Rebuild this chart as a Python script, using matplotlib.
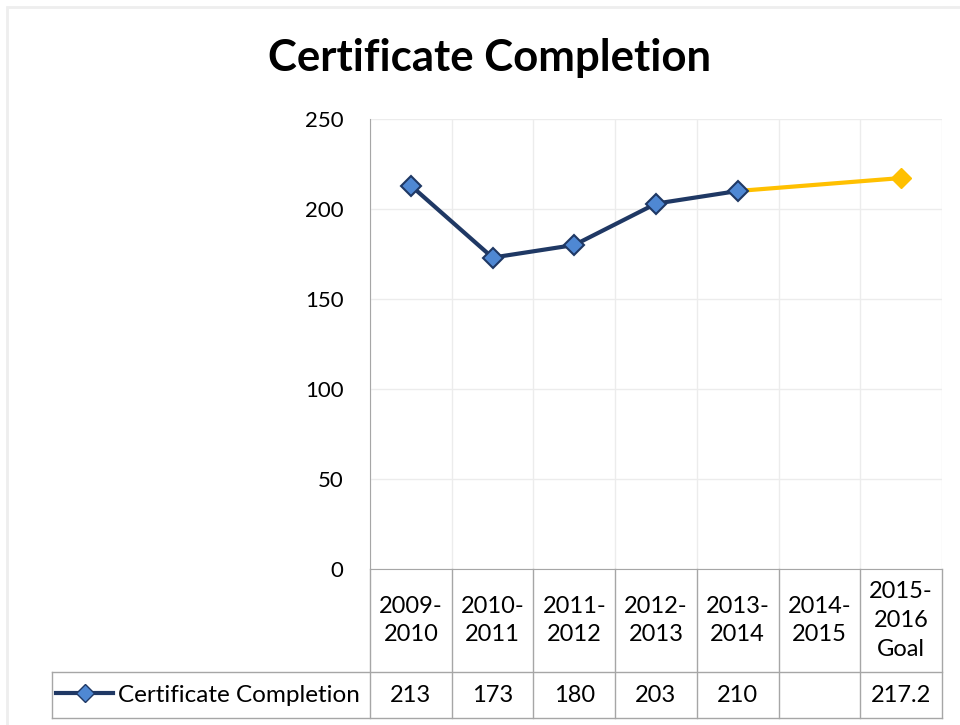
import matplotlib.pyplot as plt
from matplotlib.patches import Rectangle
from matplotlib.lines import Line2D

plt.rcParams['font.family'] = ['Lato', 'DejaVu Sans']

years = ["2009-\n2010", "2010-\n2011", "2011-\n2012", "2012-\n2013",
         "2013-\n2014", "2014-\n2015", "2015-\n2016\nGoal"]
completion = [213, 173, 180, 203, 210, None, 217.2]
cell_text = ["213", "173", "180", "203", "210", "", "217.2"]
actual_idx = [0, 1, 2, 3, 4]
goal_idx = [4, 6]

navy = "#1F3864"
blue = "#4F88D3"
gold = "#FFC000"
grid_c = "#ECECEC"
table_c = "#A6A6A6"

fig = plt.figure(figsize=(9.6, 7.25), dpi=100)
fig.patches.append(Rectangle((7 / 960, -0.1), 1.2, 1 - 7 / 725 + 0.1,
                             transform=fig.transFigure, fill=False,
                             edgecolor="#EEEEEE", linewidth=2))

ax = fig.add_axes([370 / 960, 1 - 569 / 725, 572 / 960, 450 / 725])
ax.set_xlim(-0.5, 6.5)
ax.set_ylim(0, 250)
ax.set_yticks(range(0, 251, 50))
ax.set_xticks([])
ax.set_xticks([i - 0.5 for i in range(8)], minor=True)
ax.tick_params(axis="x", which="both", length=0, labelbottom=False)
ax.tick_params(axis="y", length=0, labelsize=16, pad=19)
ax.grid(axis="y", color=grid_c, linewidth=1)
ax.grid(axis="x", which="minor", color=grid_c, linewidth=1)
for s in ["top", "right"]:
    ax.spines[s].set_visible(False)
ax.spines["left"].set_color(table_c)
ax.spines["bottom"].set_color(table_c)

# goal segment first so it sits under the last marker
ax.plot(goal_idx, [completion[i] for i in goal_idx], color=gold, linewidth=3,
        zorder=3)
ax.plot([6], [completion[6]], marker="D", markersize=10.5, color=gold,
        linestyle="none", zorder=4, clip_on=False)
ax.plot(actual_idx, [completion[i] for i in actual_idx], color=navy,
        linewidth=3, marker="D", markersize=10.5, markerfacecolor=blue,
        markeredgecolor=navy, markeredgewidth=1.5, zorder=5, clip_on=False)

fig.text(490 / 960, 1 - 58 / 725, "Certificate Completion", ha="center",
         va="center", fontsize=31.5, fontweight="bold")

# data table under the plot
tr = ax.get_xaxis_transform()
px_per_unit = 572 / 7
head_bot = -103 / 450
row_bot = -149 / 450
left_x = -0.5 - (370 - 52) / px_per_unit

for i in range(8):
    x = i - 0.5
    ax.add_line(Line2D([x, x], [0, row_bot], transform=tr, color=table_c,
                       linewidth=1, clip_on=False))
ax.add_line(Line2D([left_x, left_x], [head_bot, row_bot], transform=tr,
                   color=table_c, linewidth=1, clip_on=False))
for y in [head_bot, row_bot]:
    ax.add_line(Line2D([left_x, 6.5], [y, y], transform=tr, color=table_c,
                       linewidth=1, clip_on=False))

for i, lab in enumerate(years):
    ax.text(i, head_bot / 2, lab, transform=tr, ha="center", va="center",
            fontsize=17, linespacing=1.45)
    ax.text(i, (head_bot + row_bot) / 2, cell_text[i], transform=tr,
            ha="center", va="center", fontsize=17)

key = Line2D([], [], color=navy, linewidth=3, marker="D", markersize=9,
             markerfacecolor=blue, markeredgecolor=navy, markeredgewidth=1)
fig.legend([key], ["Certificate Completion"], loc="center left",
           bbox_to_anchor=(56 / 960, 1 - 695 / 725), frameon=False,
           fontsize=17.5, handlelength=2.35, handletextpad=0.2,
           borderaxespad=0, borderpad=0)

fig.savefig("out.png", dpi=100)
